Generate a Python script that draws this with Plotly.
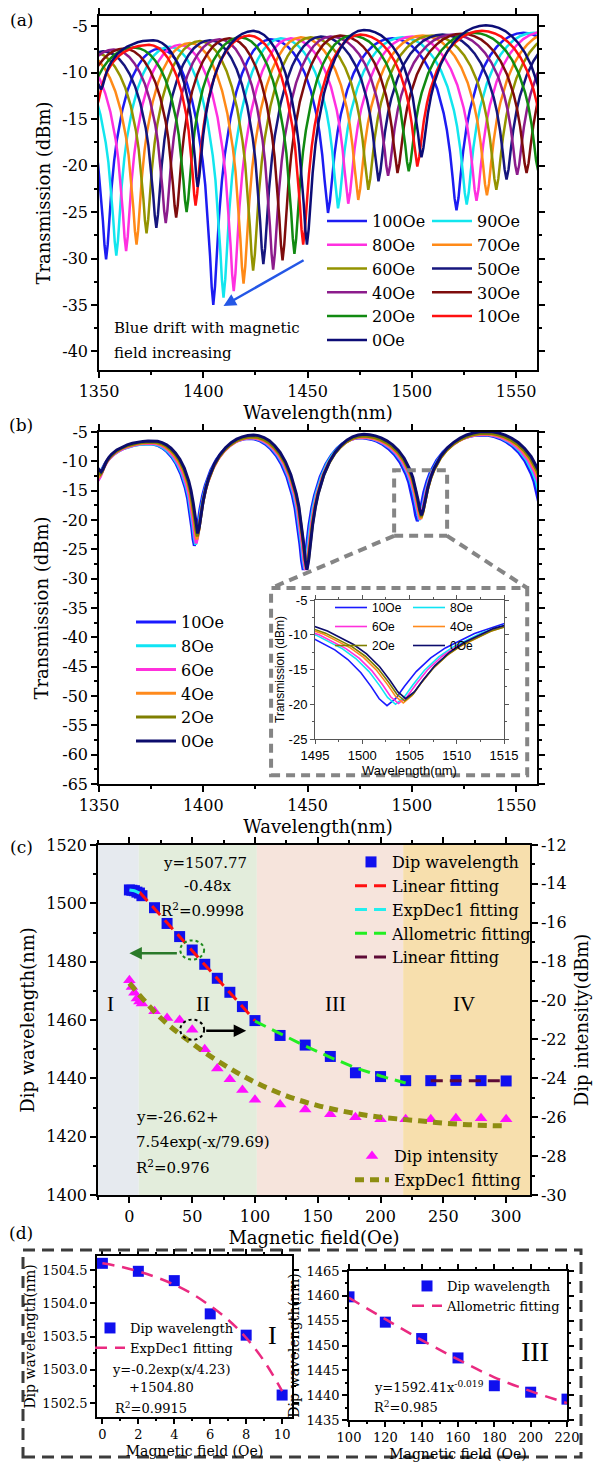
import plotly.graph_objects as go

W, H = 594, 1462
SERIF = "DejaVu Serif"
ROMAN = "Liberation Serif"
SANS = "Liberation Sans"

# ---------------- shared fringe profile ----------------
# fraction of the dip depth (F) at fractional distance (U) from a dip towards the neighbouring peak
FRINGE_U = [0.0, 0.03, 0.06, 0.1, 0.15, 0.2, 0.3, 0.4, 0.5, 0.6, 0.7, 0.8, 0.9, 1.0]
FRINGE_F = [1.0, 0.93, 0.81, 0.667, 0.533, 0.435, 0.295, 0.199, 0.13, 0.08, 0.043, 0.019, 0.005, 0.0]

# ---------------- panel (a): spectra extrema ----------------
FIELDS_A = ["100Oe", "90Oe", "80Oe", "70Oe", "60Oe", "50Oe", "40Oe", "30Oe", "20Oe", "10Oe", "0Oe"]
COLORS_A = ["#1c1cf2", "#12e6ee", "#ff30e0", "#ff8a18", "#939300", "#16167e",
            "#8c1c8c", "#7e0c0c", "#118a11", "#ff1010", "#0c0c76"]
PEAK0_WL_A = [1277, 1282, 1287, 1292, 1297, 1302, 1307, 1312, 1317, 1322, 1325]
PEAK0_DB_A = [-8.5, -8.5, -8.5, -8.5, -8.5, -8.5, -8.5, -8.5, -8.5, -8.5, -8.5]
DIP_Z_WL_A = [1302, 1307, 1312, 1317, 1322, 1327, 1332, 1337, 1342, 1349, 1351]
DIP_Z_DB_A = [-30.0, -29.0, -28.0, -27.0, -26.0, -25.0, -24.0, -22.0, -18.0, -13.5, -11.8]
PEAK1_WL_A = [1328, 1333, 1338, 1342.5, 1347.5, 1352, 1357, 1362, 1367, 1374, 1376]
PEAK1_DB_A = [-8.3, -8.2, -8.0, -7.9, -7.8, -7.7, -7.5, -7.4, -7.3, -7.0, -6.5]
DIP_A_WL_A = [1353.4, 1358.3, 1363.0, 1368.0, 1372.8, 1377.5, 1382.0, 1387.0, 1392.0, 1396.3, 1397.3]
DIP_A_DB_A = [-30.1, -29.7, -29.2, -28.5, -27.3, -26.7, -26.2, -25.6, -25.0, -24.3, -22.3]
PEAK2_WL_A = [1379.1, 1384.0, 1388.8, 1393.6, 1398.4, 1403.2, 1407.8, 1412.5, 1417.9, 1422.0, 1424.0]
PEAK2_DB_A = [-7.4, -7.2, -7.0, -6.8, -6.6, -6.5, -6.4, -6.3, -6.2, -6.0, -5.5]
DIP_B_WL_A = [1404.8, 1409.7, 1414.6, 1419.3, 1423.9, 1428.8, 1433.5, 1438.0, 1443.7, 1447.9, 1449.7]
DIP_B_DB_A = [-35.0, -34.2, -33.5, -32.7, -31.3, -30.6, -31.2, -30.2, -29.5, -28.5, -28.5]
PEAK3_WL_A = [1432.3, 1437.2, 1442.0, 1446.8, 1451.5, 1456.4, 1461.0, 1465.6, 1471.1, 1475.3, 1477.0]
PEAK3_DB_A = [-6.4, -6.3, -6.3, -6.2, -6.2, -6.1, -6.1, -6.0, -6.0, -5.9, -5.4]
DIP_C_WL_A = [1459.8, 1464.6, 1469.5, 1474.3, 1479.1, 1484.0, 1488.6, 1493.1, 1498.5, 1502.6, 1504.6]
DIP_C_DB_A = [-25.1, -24.6, -24.1, -23.7, -22.6, -21.7, -21.1, -20.8, -20.6, -20.1, -19.1]
PEAK4_WL_A = [1490.6, 1495.5, 1500.3, 1505.2, 1509.8, 1514.7, 1519.6, 1524.0, 1529.5, 1533.6, 1535.5]
PEAK4_DB_A = [-6.3, -6.2, -6.1, -6.0, -6.0, -5.9, -5.9, -5.8, -5.7, -5.5, -4.9]
DIP_D_WL_A = [1521.4, 1526.3, 1531.0, 1536.0, 1540.5, 1545.4, 1550.5, 1555.0, 1560.5, 1564.5, 1566.5]
DIP_D_DB_A = [-24.8, -24.2, -23.8, -23.2, -22.6, -21.5, -21.0, -20.8, -20.5, -20.0, -19.5]
PEAK5_WL_A = [1553.5, 1558.5, 1563.0, 1568.0, 1572.5, 1577.5, 1582.5, 1587.0, 1592.5, 1596.5, 1598.5]
PEAK5_DB_A = [-5.7, -5.7, -5.6, -5.6, -5.6, -5.6, -5.6, -5.6, -5.6, -5.5, -5.0]
DIP_E_WL_A = [1585, 1590, 1595, 1600, 1604.5, 1609.5, 1614.5, 1619, 1624.5, 1628.5, 1630.5]
DIP_E_DB_A = [-24, -24, -24, -24, -24, -24, -24, -24, -24, -24, -24]

# ---------------- panel (b) + inset ----------------
FIELDS_B = ["10Oe", "8Oe", "6Oe", "4Oe", "2Oe", "0Oe"]
COLORS_B = ["#1a1aff", "#10e4f4", "#ff30dc", "#ff8a1c", "#7f7f00", "#0c0c6c"]
PEAK0_WL_B = [1324, 1325, 1325, 1325, 1325, 1325]
PEAK0_DB_B = [-8.5, -8.5, -8.5, -8.5, -8.5, -8.5]
DIP_Z_WL_B = [1349.0, 1349.5, 1350.0, 1350.3, 1350.7, 1351.0]
DIP_Z_DB_B = [-13.5, -13.2, -13.0, -12.5, -12.2, -11.8]
PEAK1_WL_B = [1374.0, 1374.5, 1375.0, 1375.3, 1375.7, 1376.0]
PEAK1_DB_B = [-7.0, -7.0, -6.9, -6.8, -6.7, -6.5]
DIP_A_WL_B = [1395.7, 1396.3, 1396.6, 1396.9, 1397.1, 1397.3]
DIP_A_DB_B = [-24.4, -24.2, -24.0, -23.3, -22.8, -22.3]
PEAK2_WL_B = [1422.0, 1422.5, 1423.0, 1423.3, 1423.6, 1424.0]
PEAK2_DB_B = [-6.1, -6.0, -6.0, -5.9, -5.8, -5.5]
DIP_B_WL_B = [1447.9, 1448.6, 1449.0, 1449.4, 1449.6, 1449.7]
DIP_B_DB_B = [-28.5, -28.4, -28.5, -28.3, -28.4, -28.5]
PEAK3_WL_B = [1475.0, 1475.5, 1476.0, 1476.3, 1476.6, 1477.0]
PEAK3_DB_B = [-6.0, -5.9, -5.9, -5.8, -5.7, -5.4]
DIP_C_WL_B = [1502.62, 1503.52, 1503.84, 1504.34, 1504.48, 1504.6]
DIP_C_DB_B = [-20.2, -20.0, -19.9, -19.8, -19.5, -19.2]
PEAK4_WL_B = [1533.5, 1534.0, 1534.4, 1534.8, 1535.2, 1535.5]
PEAK4_DB_B = [-5.5, -5.4, -5.4, -5.3, -5.2, -4.9]
DIP_D_WL_B = [1563.0, 1564.0, 1564.8, 1565.5, 1566.0, 1566.5]
DIP_D_DB_B = [-20.5, -20.3, -20.1, -19.9, -19.7, -19.5]
PEAK5_WL_B = [1595.0, 1596.0, 1597.0, 1597.5, 1598.0, 1598.5]
PEAK5_DB_B = [-5.6, -5.6, -5.6, -5.6, -5.6, -5.6]

# ---------------- panel (c) ----------------
FIELD_C = [0, 2, 4, 6, 8, 10, 20, 30, 40, 50, 60, 70, 80, 90, 100,
           120, 140, 160, 180, 200, 220, 240, 260, 280, 300]
DIP_WL_C = [1504.6, 1504.48, 1504.34, 1503.84, 1503.52, 1502.62, 1498.5, 1493.1, 1488.6, 1484.0,
            1479.1, 1474.3, 1469.5, 1464.6, 1459.8, 1454.7, 1451.4, 1447.5, 1441.9, 1440.6,
            1439.2, 1439.2, 1439.3, 1439.2, 1439.1]
DIP_INT_C = [-18.95, -19.3, -19.6, -19.9, -20.05, -20.15, -20.55, -20.9, -21.0, -21.5,
             -22.5, -23.5, -24.05, -24.6, -25.1, -25.35, -25.6, -25.85, -26.0, -26.1,
             -26.1, -26.1, -26.05, -26.05, -26.1]
LIN1_X = [8, 100]
LIN1_Y = [1503.9, 1459.8]
EXP1_X = [0, 2, 4, 6, 8]
EXP1_Y = [1504.6, 1504.5, 1504.3, 1503.95, 1503.5]
ALLO_X = [100, 120, 140, 160, 180, 200, 220]
ALLO_Y = [1459.6, 1455.3, 1451.1, 1447.2, 1443.6, 1440.8, 1438.4]
LIN2_X = [240, 300]
LIN2_Y = [1439.2, 1439.2]
EXP2_X = [0, 25, 50, 75, 100, 125, 150, 175, 200, 225, 250, 275, 300]
EXP2_Y = [-19.1, -20.9, -22.2, -23.3, -24.2, -24.9, -25.4, -25.75, -26.0, -26.15, -26.3, -26.4, -26.45]
REGION_BOUNDS = [-25, 7.5, 101.5, 218, 319]
REGION_COLORS = ["#e6eaef", "#e3eddc", "#f6e4dc", "#f7dfad"]
REGION_NAMES = ["I", "II", "III", "IV"]
REGION_LABEL_X = [-15, 59, 164, 266.5]

# ---------------- panel (d) ----------------
FIT_D1_X = [0, 1, 2, 3, 4, 5, 6, 7, 8, 9, 10]
FIT_D1_Y = [1504.60, 1504.55, 1504.48, 1504.39, 1504.28, 1504.14, 1503.96, 1503.75, 1503.48, 1503.13, 1502.68]

# tick labels
TICKS_WL = [1350, 1400, 1450, 1500, 1550]
TICKS_A_Y = [-40, -35, -30, -25, -20, -15, -10, -5]
TICKS_B_Y = [-65, -60, -55, -50, -45, -40, -35, -30, -25, -20, -15, -10, -5]
TICKS_IN_X = [1495, 1500, 1505, 1510, 1515]
TICKS_IN_Y = [-25, -20, -15, -10, -5]
TICKS_C_X = [0, 50, 100, 150, 200, 250, 300]
TICKS_C_Y = [1400, 1420, 1440, 1460, 1480, 1500, 1520]
TICKS_C_Y2 = [-30, -28, -26, -24, -22, -20, -18, -16, -14, -12]
TICKS_D1_X = [0, 2, 4, 6, 8, 10]
TICKS_D1_Y = [1502.5, 1503.0, 1503.5, 1504.0, 1504.5]
TICKS_D2_X = [100, 120, 140, 160, 180, 200, 220]
TICKS_D2_Y = [1435, 1440, 1445, 1450, 1455, 1460, 1465]


def spectrum(ext_wl, ext_db):
    xs, ys = [], []
    for i in range(len(ext_wl) - 1):
        w0, t0 = ext_wl[i], ext_db[i]
        w1, t1 = ext_wl[i + 1], ext_db[i + 1]
        if t0 < t1:
            pts = [(w0 + u * (w1 - w0), t1 - f * (t1 - t0)) for u, f in zip(FRINGE_U, FRINGE_F)]
        else:
            pts = [(w1 - u * (w1 - w0), t0 - f * (t0 - t1)) for u, f in zip(FRINGE_U[::-1], FRINGE_F[::-1])]
        if i > 0:
            pts = pts[1:]
        for x, y in pts:
            xs.append(x)
            ys.append(y)
    return xs, ys


def lab(vals, fmt="{:g}"):
    return [fmt.format(v).replace("\u2212", "-") for v in vals]


def fx(p):
    return p / W


def fy(p):
    return 1 - p / H


def dom_x(a, b):
    return [a / W, b / W]


def dom_y(top, bottom):
    return [1 - bottom / H, 1 - top / H]


fig = go.Figure()

# ---- (a)
for i, name in enumerate(FIELDS_A):
    ew = [PEAK0_WL_A[i], DIP_Z_WL_A[i], PEAK1_WL_A[i], DIP_A_WL_A[i], PEAK2_WL_A[i], DIP_B_WL_A[i],
          PEAK3_WL_A[i], DIP_C_WL_A[i], PEAK4_WL_A[i], DIP_D_WL_A[i], PEAK5_WL_A[i], DIP_E_WL_A[i]]
    ed = [PEAK0_DB_A[i], DIP_Z_DB_A[i], PEAK1_DB_A[i], DIP_A_DB_A[i], PEAK2_DB_A[i], DIP_B_DB_A[i],
          PEAK3_DB_A[i], DIP_C_DB_A[i], PEAK4_DB_A[i], DIP_D_DB_A[i], PEAK5_DB_A[i], DIP_E_DB_A[i]]
    xs, ys = spectrum(ew, ed)
    fig.add_trace(go.Scatter(x=xs, y=ys, mode="lines", name=name, line=dict(color=COLORS_A[i], width=2.5),
                             xaxis="x", yaxis="y", legend="legend" if i % 2 == 0 else "legend2"))

# ---- (b) and inset
for i, name in enumerate(FIELDS_B):
    ew = [PEAK0_WL_B[i], DIP_Z_WL_B[i], PEAK1_WL_B[i], DIP_A_WL_B[i], PEAK2_WL_B[i], DIP_B_WL_B[i],
          PEAK3_WL_B[i], DIP_C_WL_B[i], PEAK4_WL_B[i], DIP_D_WL_B[i], PEAK5_WL_B[i]]
    ed = [PEAK0_DB_B[i], DIP_Z_DB_B[i], PEAK1_DB_B[i], DIP_A_DB_B[i], PEAK2_DB_B[i], DIP_B_DB_B[i],
          PEAK3_DB_B[i], DIP_C_DB_B[i], PEAK4_DB_B[i], DIP_D_DB_B[i], PEAK5_DB_B[i]]
    xs, ys = spectrum(ew, ed)
    fig.add_trace(go.Scatter(x=xs, y=ys, mode="lines", name=name, line=dict(color=COLORS_B[i], width=3),
                             xaxis="x2", yaxis="y2", legend="legend3"))
    fig.add_trace(go.Scatter(x=xs, y=ys, mode="lines", name=name, line=dict(color=COLORS_B[i], width=1.6),
                             xaxis="x3", yaxis="y3", legend="legend4" if i % 2 == 0 else "legend5"))

# ---- (c)
BLUE = "#1010ee"
fig.add_trace(go.Scatter(x=FIELD_C, y=DIP_WL_C, mode="markers", name="Dip wavelength",
                         marker=dict(symbol="square", size=11, color=BLUE), xaxis="x4", yaxis="y4", legend="legend6"))
fig.add_trace(go.Scatter(x=LIN1_X, y=LIN1_Y, mode="lines", name="Linear fitting",
                         line=dict(color="#ff1010", width=3, dash="12px,7px"), xaxis="x4", yaxis="y4", legend="legend6"))
fig.add_trace(go.Scatter(x=EXP1_X, y=EXP1_Y, mode="lines", name="ExpDec1 fitting",
                         line=dict(color="#22eeee", width=3, dash="12px,7px"), xaxis="x4", yaxis="y4", legend="legend6"))
fig.add_trace(go.Scatter(x=ALLO_X, y=ALLO_Y, mode="lines", name="Allometric fitting",
                         line=dict(color="#22ee22", width=3, dash="12px,7px"), xaxis="x4", yaxis="y4", legend="legend6"))
fig.add_trace(go.Scatter(x=LIN2_X, y=LIN2_Y, mode="lines", name="Linear fitting",
                         line=dict(color="#5e0a36", width=3, dash="12px,7px"), xaxis="x4", yaxis="y4", legend="legend6"))
fig.add_trace(go.Scatter(x=FIELD_C, y=DIP_INT_C, mode="markers", name="Dip intensity",
                         marker=dict(symbol="triangle-up", size=11, color="#ff10ff"), xaxis="x4", yaxis="y5", legend="legend7"))
fig.add_trace(go.Scatter(x=EXP2_X, y=EXP2_Y, mode="lines", name="ExpDec1 fitting", line_shape="spline",
                         line=dict(color="#8e8e12", width=5, dash="9px,6px"), xaxis="x4", yaxis="y5", legend="legend7"))

# ---- (d)
PINK = "#ea2a80"
fig.add_trace(go.Scatter(x=FIELD_C[:6], y=DIP_WL_C[:6], mode="markers", name="Dip wavelength",
                         marker=dict(symbol="square", size=11, color=BLUE), xaxis="x6", yaxis="y6", legend="legend8"))
fig.add_trace(go.Scatter(x=FIT_D1_X, y=FIT_D1_Y, mode="lines", name="ExpDec1 fitting", line_shape="spline",
                         line=dict(color=PINK, width=2.5, dash="12px,8px"), xaxis="x6", yaxis="y6", legend="legend8"))
fig.add_trace(go.Scatter(x=FIELD_C[14:21], y=DIP_WL_C[14:21], mode="markers", name="Dip wavelength",
                         marker=dict(symbol="square", size=11, color=BLUE), xaxis="x7", yaxis="y7", legend="legend9"))
fig.add_trace(go.Scatter(x=ALLO_X, y=ALLO_Y, mode="lines", name="Allometric fitting", line_shape="spline",
                         line=dict(color=PINK, width=2.5, dash="12px,8px"), xaxis="x7", yaxis="y7", legend="legend9"))


def axis(domain, rng, tickvals, ticktext, anchor, size=16, family=SERIF, minor_dtick=None, minor_tick0=0,
         title=None, tsize=18, standoff=6, mirror="ticks", side=None, ticklen=6, linecolor="black", lw=1.5,
         overlaying=None):
    d = dict(range=rng, tickmode="array", tickvals=tickvals, ticktext=ticktext, anchor=anchor,
             showline=True, linecolor=linecolor, linewidth=lw, mirror=mirror, ticks="outside",
             ticklen=ticklen, tickwidth=lw, tickcolor=linecolor, showgrid=False, zeroline=False,
             automargin=False, tickfont=dict(family=family, size=size, color="black"))
    if domain is not None:
        d["domain"] = domain
    if minor_dtick is not None:
        d["minor"] = dict(tickmode="linear", tick0=minor_tick0, dtick=minor_dtick, ticks="outside",
                          ticklen=max(2, ticklen // 2), tickwidth=lw, tickcolor=linecolor, showgrid=False)
    if title is not None:
        d["title"] = dict(text=title, font=dict(family=family, size=tsize, color="black"), standoff=standoff)
    if side:
        d["side"] = side
    if overlaying:
        d["overlaying"] = overlaying
    return d


def legend_box(x, y, size, family=SERIF, itemwidth=30):
    return dict(x=fx(x), y=fy(y), xanchor="left", yanchor="top", bgcolor="rgba(0,0,0,0)", borderwidth=0,
                font=dict(family=family, size=size, color="black"), itemwidth=itemwidth,
                tracegroupgap=0, orientation="v", itemclick=False, itemdoubleclick=False)


layout = dict(
    width=W, height=H, margin=dict(l=0, r=0, t=0, b=0), paper_bgcolor="white", plot_bgcolor="white",
    font=dict(family=SERIF, color="black"), showlegend=True,
    xaxis=axis(dom_x(99, 537), [1350, 1560], TICKS_WL, lab(TICKS_WL), "y", minor_dtick=25,
               title="Wavelength(nm)", standoff=6),
    yaxis=axis(dom_y(16, 370), [-42, -3.9], TICKS_A_Y, lab(TICKS_A_Y), "x", minor_dtick=2.5,
               title="Transmission (dBm)", standoff=7),
    xaxis2=axis(dom_x(99, 537), [1350, 1560], TICKS_WL, lab(TICKS_WL), "y2", minor_dtick=25,
                title="Wavelength(nm)", standoff=6),
    yaxis2=axis(dom_y(432, 784), [-65, -5], TICKS_B_Y, lab(TICKS_B_Y), "x2", minor_dtick=2.5,
                title="Transmission (dBm)", standoff=9),
    xaxis3=axis(dom_x(315, 504), [1495, 1515], TICKS_IN_X, lab(TICKS_IN_X), "y3", size=13, family=SANS,
                title="Wavelength(nm)", tsize=13, standoff=1, ticklen=4, linecolor="#555555", lw=1,
                minor_dtick=2.5),
    yaxis3=axis(dom_y(600, 739), [-25, -5], TICKS_IN_Y, lab(TICKS_IN_Y), "x3", size=13, family=SANS,
                title="Transmission (dBm)", tsize=12, standoff=1, ticklen=4, linecolor="#555555", lw=1,
                minor_dtick=2.5),
    xaxis4=axis(dom_x(98, 530), [-25, 319], TICKS_C_X, lab(TICKS_C_X), "y4", minor_dtick=25,
                title="Magnetic field(Oe)", standoff=6),
    yaxis4=axis(dom_y(845, 1195), [1400, 1520], TICKS_C_Y, lab(TICKS_C_Y), "x4", minor_dtick=10,
                minor_tick0=1400, title="Dip wavelength(nm)", standoff=7, mirror=False),
    yaxis5=axis(None, [-30, -12], TICKS_C_Y2, lab(TICKS_C_Y2), "x4", minor_dtick=1,
                title="Dip intensity(dBm)", standoff=10, mirror=False, side="right", overlaying="y4"),
    xaxis6=axis(dom_x(97, 292), [-0.3, 10.55], TICKS_D1_X, lab(TICKS_D1_X), "y6", size=13, minor_dtick=1,
                title="Magnetic field (Oe)", tsize=14, standoff=5, ticklen=5),
    yaxis6=axis(dom_y(1256, 1417), [1502.29, 1504.71], TICKS_D1_Y, lab(TICKS_D1_Y, "{:.1f}"), "x6", size=13,
                minor_dtick=0.25, minor_tick0=1502.5, title="Dip wavelength(nm)", tsize=14, standoff=3,
                ticklen=5),
    xaxis7=axis(dom_x(349, 567), [100, 220], TICKS_D2_X, lab(TICKS_D2_X), "y7", size=13, minor_dtick=10,
                title="Magnetic field (Oe)", tsize=14, standoff=5, ticklen=5),
    yaxis7=axis(dom_y(1271, 1420), [1435, 1465], TICKS_D2_Y, lab(TICKS_D2_Y), "x7", size=13,
                minor_dtick=2.5, minor_tick0=1435, title="Dip wavelength(nm)", tsize=14, standoff=4,
                ticklen=5),
    legend=legend_box(322, 204, 16, itemwidth=40),
    legend2=legend_box(427, 204, 16, itemwidth=40),
    legend3=legend_box(131, 605, 16, itemwidth=40),
    legend4=legend_box(330, 593, 12, family=SANS, itemwidth=32),
    legend5=legend_box(408, 593, 12, family=SANS, itemwidth=32),
    legend6=legend_box(350, 845, 16, itemwidth=32),
    legend7=legend_box(350, 1139, 16, itemwidth=34),
    legend8=legend_box(90, 1313, 13, itemwidth=30),
    legend9=legend_box(407, 1271, 13, itemwidth=30),
)
fig.update_layout(**layout)

ann = []


def text(x, y, s, size=15, family=SERIF, xanchor="center", xref="paper", yref="paper"):
    ann.append(dict(x=x, y=y, xref=xref, yref=yref, text=s, showarrow=False, xanchor=xanchor,
                    yanchor="middle", font=dict(family=family, size=size, color="black")))


# panel labels
text(fx(21), fy(20), "(a)", 17)
text(fx(21), fy(425), "(b)", 17)
text(fx(21), fy(847), "(c)", 17)
text(fx(21), fy(1233), "(d)", 17)

# (a) note + arrow
text(fx(112), fy(328), "Blue drift with magnetic", 15, xanchor="left")
text(fx(112), fy(353), "field increasing", 15, xanchor="left")
ann.append(dict(x=1409.7, y=-35.1, ax=1448.8, ay=-30.1, xref="x", yref="y", axref="x", ayref="y",
                text="", showarrow=True, arrowhead=2, arrowsize=1, arrowwidth=2.5, arrowcolor="#2457e6"))

# (c) region labels
for nm, lx in zip(REGION_NAMES, REGION_LABEL_X):
    text(lx, 1465.6, nm, 21, family=ROMAN, xref="x4", yref="y4")
# (c) fit equations
text(60.5, 1513.8, "y=1507.77", 15, xref="x4", yref="y4")
text(62, 1506.0, "-0.48x", 15, xref="x4", yref="y4")
text(58, 1497.7, "R<sup>2</sup>=0.9998", 15, xref="x4", yref="y4")
text(3.7, 1426.8, "y=-26.62+", 15, xanchor="left", xref="x4", yref="y4")
text(3.7, 1418.2, "7.54exp(-x/79.69)", 15, xanchor="left", xref="x4", yref="y4")
text(3.7, 1409.6, "R<sup>2</sup>=0.976", 15, xanchor="left", xref="x4", yref="y4")
# (c) arrows
ann.append(dict(x=0, y=1482.9, ax=39, ay=1482.9, xref="x4", yref="y4", axref="x4", ayref="y4",
                text="", showarrow=True, arrowhead=2, arrowsize=1, arrowwidth=2.5, arrowcolor="#2a7a2a"))
ann.append(dict(x=93, y=-21.55, ax=60, ay=-21.55, xref="x4", yref="y5", axref="x4", ayref="y5",
                text="", showarrow=True, arrowhead=2, arrowsize=1, arrowwidth=2.5, arrowcolor="black"))

# (d) equations and labels
text(0.42, 1503.01, "y=-0.2exp(x/4.23)", 13, xanchor="left", xref="x6", yref="y6")
text(1.37, 1502.74, "+1504.80", 13, xanchor="left", xref="x6", yref="y6")
text(0.59, 1502.43, "R<sup>2</sup>=0.9915", 13, xanchor="left", xref="x6", yref="y6")
text(9.44, 1503.52, "I", 26, family=ROMAN, xref="x6", yref="y6")
text(112.7, 1441.6, "y=1592.41x<sup>-0.019</sup>", 13, xanchor="left", xref="x7", yref="y7")
text(112.7, 1437.6, "R<sup>2</sup>=0.985", 13, xanchor="left", xref="x7", yref="y7")
text(202.4, 1448.7, "III", 28, family=ROMAN, xref="x7", yref="y7")

fig.update_layout(annotations=ann)

shapes = []
# (c) shaded regions
for k in range(4):
    shapes.append(dict(type="rect", xref="x4", yref="y4 domain", x0=REGION_BOUNDS[k], x1=REGION_BOUNDS[k + 1],
                       y0=0, y1=1, fillcolor=REGION_COLORS[k], line=dict(width=0), layer="below"))
# (c) dotted circles around the 50 Oe points
i50 = FIELD_C.index(50)
shapes.append(dict(type="circle", xref="x4", yref="y4", x0=FIELD_C[i50] - 9.5, x1=FIELD_C[i50] + 9.5,
                   y0=DIP_WL_C[i50] - 3.3, y1=DIP_WL_C[i50] + 3.3, line=dict(color="#1e8a1e", width=2, dash="dot")))
shapes.append(dict(type="circle", xref="x4", yref="y5", x0=FIELD_C[i50] - 9.5, x1=FIELD_C[i50] + 9.5,
                   y0=DIP_INT_C[i50] - 0.52, y1=DIP_INT_C[i50] + 0.52, line=dict(color="black", width=2, dash="dot")))
# (b) zoom boxes
GREY = dict(color="#858585", width=4, dash="9px,6px")
shapes.append(dict(type="rect", xref="x2", yref="y2", x0=1491.5, x1=1516.9, y0=-22.7, y1=-11.5, line=GREY))
shapes.append(dict(type="rect", xref="x2", yref="y2", x0=1432.5, x1=1555.3, y0=-63.5, y1=-31.6, line=GREY))
shapes.append(dict(type="line", xref="x2", yref="y2", x0=1491.5, y0=-22.7, x1=1432.5, y1=-31.6, line=GREY))
shapes.append(dict(type="line", xref="x2", yref="y2", x0=1516.9, y0=-22.7, x1=1555.3, y1=-31.6, line=GREY))
# (d) dashed frame
shapes.append(dict(type="rect", xref="paper", yref="paper", x0=fx(23), x1=fx(581), y0=fy(1457), y1=fy(1250),
                   line=dict(color="#3c3c3c", width=3, dash="12px,7px")))
fig.update_layout(shapes=shapes)

fig.write_html("out.html")
